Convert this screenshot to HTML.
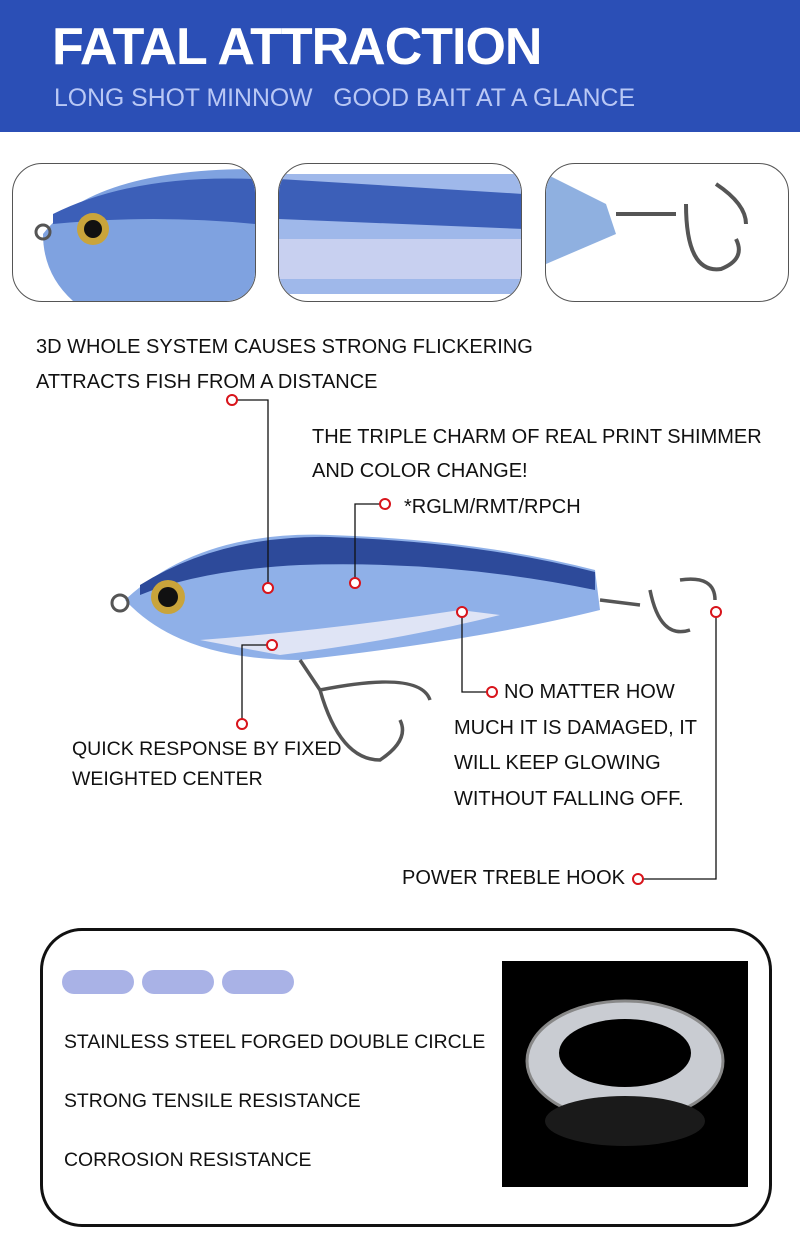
<!DOCTYPE html>
<html><head><meta charset="utf-8"><style>
body{margin:0;width:800px;height:1258px;position:relative;background:#fff;font-family:"Liberation Sans",sans-serif;overflow:hidden}
.hdr{position:absolute;left:0;top:0;width:800px;height:132px;background:#2b4fb6}
.t1{position:absolute;left:52px;top:17px;color:#fff;font-weight:bold;font-size:52px;letter-spacing:-1px}
.t2{position:absolute;left:54px;top:85px;color:#b9c8f5;font-size:24.8px}
.box{position:absolute;top:163px;width:242px;height:137px;border:1.5px solid #555;border-radius:30px;overflow:hidden;background:#fff}
.lb{position:absolute;font-size:20px;color:#111;line-height:35px}
.big{position:absolute;left:40px;top:928px;width:726px;height:293px;border:3px solid #111;border-radius:42px}
.pill{position:absolute;top:970px;width:72px;height:24px;border-radius:12px;background:#a9b2e6}
.bt{position:absolute;left:64px;font-size:19.4px;color:#111}
</style></head><body>
<div class="hdr"></div>
<div class="t1">FATAL ATTRACTION</div>
<div class="t2">LONG SHOT MINNOW &nbsp; GOOD BAIT AT A GLANCE</div>

<div class="box" style="left:12px"><svg width="242" height="137"><path d="M30 70 Q80 5 242 5 L242 137 L60 137 Q30 110 30 70Z" fill="#7fa2e0"/><path d="M40 50 Q120 10 242 15 L242 60 Q140 50 40 60Z" fill="#3c5fb8"/><circle cx="80" cy="65" r="16" fill="#c9a43b"/><circle cx="80" cy="65" r="9" fill="#111"/><circle cx="30" cy="68" r="7" fill="none" stroke="#555" stroke-width="3"/></svg></div>
<div class="box" style="left:278px"><svg width="245" height="137"><rect x="0" y="10" width="245" height="120" fill="#9fb8ea"/><path d="M0 15 L245 30 L245 65 L0 55Z" fill="#3c5fb8"/><rect x="0" y="75" width="245" height="40" fill="#c8d0f0"/></svg></div>
<div class="box" style="left:545px"><svg width="245" height="137"><path d="M0 10 L60 40 L70 70 L0 100Z" fill="#8fb0e0"/><path d="M70 50 L130 50 M140 40 Q140 110 175 105 Q200 95 190 75 M170 20 Q200 40 200 60" stroke="#555" stroke-width="4" fill="none"/></svg></div>

<div class="lb" style="left:36px;top:330px">3D WHOLE SYSTEM CAUSES STRONG FLICKERING<br>ATTRACTS FISH FROM A DISTANCE</div>
<div class="lb" style="left:312px;top:420px">THE TRIPLE CHARM OF REAL PRINT SHIMMER</div>
<div class="lb" style="left:312px;top:454px">AND COLOR CHANGE!</div>
<div class="lb" style="left:404px;top:490px">*RGLM/RMT/RPCH</div>
<div class="lb" style="left:72px;top:734px;line-height:30px;font-size:19.5px">QUICK RESPONSE BY FIXED<br>WEIGHTED CENTER</div>
<div class="lb" style="left:504px;top:675px">NO MATTER HOW</div>
<div class="lb" style="left:454px;top:711px">MUCH IT IS DAMAGED, IT</div>
<div class="lb" style="left:454px;top:746px">WILL KEEP GLOWING</div>
<div class="lb" style="left:454px;top:782px">WITHOUT FALLING OFF.</div>
<div class="lb" style="left:402px;top:861px">POWER TREBLE HOOK</div>

<svg style="position:absolute;left:0;top:0" width="800" height="920">
<path d="M125 600 Q200 530 330 535 Q480 540 595 570 L600 610 Q480 640 300 660 Q180 660 125 600Z" fill="#8fb0e8"/>
<path d="M140 585 Q220 535 330 537 Q480 542 595 572 L595 590 Q450 560 300 565 Q200 570 140 595Z" fill="#2d4a9a"/>
<path d="M200 640 Q330 630 460 610 L500 615 Q400 640 280 655Z" fill="#dfe4f5"/>
<circle cx="168" cy="597" r="17" fill="#c9a43b"/><circle cx="168" cy="597" r="10" fill="#111"/>
<circle cx="120" cy="603" r="8" fill="none" stroke="#555" stroke-width="3"/>
<path d="M600 600 L640 605 M650 590 Q660 640 690 630 M680 580 Q715 575 715 600 M300 660 L320 690 Q340 760 380 760 Q410 740 400 720 M320 690 Q420 670 430 700" stroke="#555" stroke-width="3.5" fill="none"/>
<g stroke="#111" stroke-width="1.3" fill="none">
<polyline points="237,400 268,400 268,588"/>
<polyline points="385,504 355,504 355,583"/>
<polyline points="462,612 462,692 492,692"/>
<polyline points="242,724 242,645 272,645"/>
<polyline points="716,612 716,879 638,879"/>
</g>
<g fill="#fff" stroke="#d8141b" stroke-width="2">
<circle cx="232" cy="400" r="5"/><circle cx="268" cy="588" r="5"/>
<circle cx="385" cy="504" r="5"/><circle cx="355" cy="583" r="5"/>
<circle cx="462" cy="612" r="5"/><circle cx="492" cy="692" r="5"/>
<circle cx="242" cy="724" r="5"/><circle cx="272" cy="645" r="5"/>
<circle cx="716" cy="612" r="5"/><circle cx="638" cy="879" r="5"/>
</g></svg>

<div class="big"></div>
<div class="pill" style="left:62px"></div><div class="pill" style="left:142px"></div><div class="pill" style="left:222px"></div>
<div class="bt" style="top:1031px">STAINLESS STEEL FORGED DOUBLE CIRCLE</div>
<div class="bt" style="top:1090px">STRONG TENSILE RESISTANCE</div>
<div class="bt" style="top:1149px">CORROSION RESISTANCE</div>
<svg style="position:absolute;left:502px;top:961px" width="246" height="226"><rect width="246" height="226" fill="#000"/>
<ellipse cx="123" cy="100" rx="98" ry="60" fill="#c9ccd2"/><ellipse cx="123" cy="100" rx="98" ry="60" fill="none" stroke="#888" stroke-width="3"/>
<ellipse cx="123" cy="92" rx="66" ry="34" fill="#000"/><ellipse cx="123" cy="160" rx="80" ry="25" fill="#1a1a1a"/></svg>
</body></html>
